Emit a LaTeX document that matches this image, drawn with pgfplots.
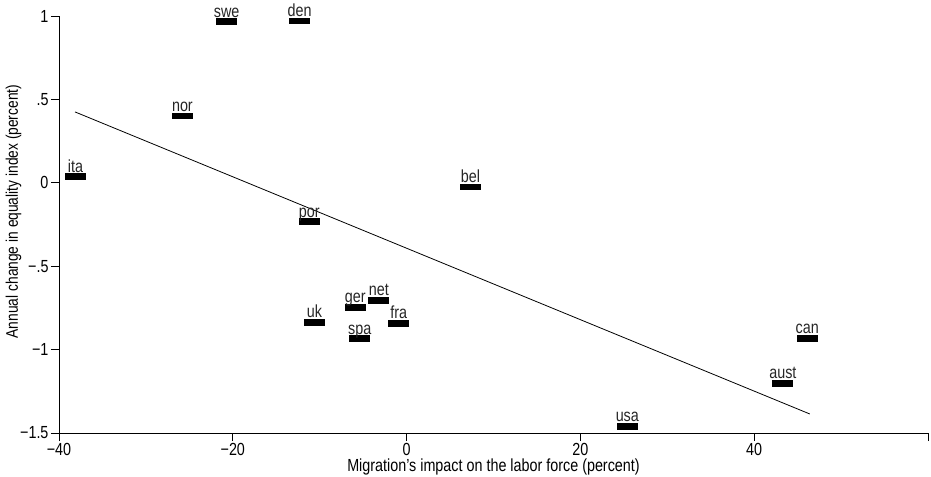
\documentclass[border=0pt]{standalone}
\usepackage{fontspec}
\setmainfont{Liberation Sans}[FakeStretch=0.82]
\usepackage{pgfplots}
\pgfplotsset{compat=1.18}

% flat black bar used as the scatter marker
\pgfdeclareplotmark{flatbar}{%
  \pgfpathrectangle{\pgfpoint{-10.5bp}{-3.4bp}}{\pgfpoint{21bp}{6.8bp}}%
  \pgfusepath{fill}}

\begin{document}
\begin{tikzpicture}
\begin{axis}[
  scale only axis,
  width=869bp, height=417bp,
  xmin=-40, xmax=60,
  ymin=-1.5, ymax=1,
  axis x line*=bottom,
  axis y line*=left,
  axis line style={line width=0.9pt},
  xtick={-40,-20,0,20,40,60},
  xticklabels={−40,−20,0,20,40,{}},
  ytick={-1.5,-1,-0.5,0,0.5,1},
  yticklabels={−1.5,−1,−.5,0,.5,1},
  tick align=outside,
  major tick length=8bp,
  tick style={line width=0.9pt, black},
  ticklabel style={font=\fontsize{17.5bp}{20bp}\selectfont},
  label style={font=\fontsize{17.5bp}{20bp}\selectfont},
  xticklabel style={yshift=1bp},
  yticklabel style={xshift=1bp},
  xlabel={Migration’s impact on the labor force (percent)},
  ylabel={Annual change in equality index (percent)},
  xlabel style={yshift=4bp},
  ylabel style={yshift=-8bp, xshift=13bp, font=\fontsize{16.8bp}{19bp}\selectfont},
  clip=false,
]
\addplot[only marks, mark=flatbar, black,
  point meta=explicit symbolic,
  nodes near coords,
  every node near coord/.append style={anchor=base, yshift=4.6bp, inner sep=0pt,
    font=\fontsize{17.5bp}{20bp}\selectfont, text=black!85}]
table[meta=lab] {
x y lab
-38.1 0.036 ita
-25.8 0.40 nor
-20.7 0.965 swe
-12.3 0.97 den
7.35 -0.025 bel
-11.2 -0.234 por
-10.6 -0.838 uk
-5.9 -0.747 ger
-3.2 -0.706 net
-0.9 -0.843 fra
-5.4 -0.935 spa
25.4 -1.461 usa
43.3 -1.203 aust
46.1 -0.933 can
};
\addplot[black, line width=0.8pt] coordinates {(-38.16,0.425) (46.4,-1.386)};
\end{axis}
\pgfresetboundingbox
\path (-59bp,-44bp) rectangle (872bp,433bp);
\end{tikzpicture}
\end{document}
